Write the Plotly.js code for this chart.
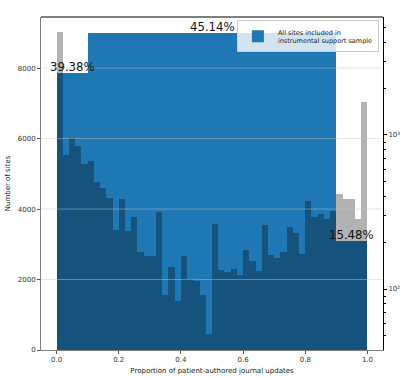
<!DOCTYPE html>
<html>
<head>
<meta charset="utf-8">
<script src="https://cdn.plot.ly/plotly-3.0.1.min.js"></script>
<style>
  html, body { margin: 0; padding: 0; background: #fff; }
  #plot { width: 407px; height: 379px; }
</style>
</head>
<body>
<div id="plot"></div>
<script>
// Три группы сайтов (синие столбцы, левая ось)
const groupCenters = [0.05, 0.5, 0.95];
const groupWidths = [0.1, 0.8, 0.1];
const groupCounts = [7851, 9000, 3086];
const groupLabels = ["39.38%", "45.14%", "15.48%"];

// Гистограмма по 50 интервалам (серые столбцы, правая лог. ось)
const binCenters = [
  0.01, 0.03, 0.05, 0.07, 0.09, 0.11, 0.13, 0.15, 0.17, 0.19,
  0.21, 0.23, 0.25, 0.27, 0.29, 0.31, 0.33, 0.35, 0.37, 0.39,
  0.41, 0.43, 0.45, 0.47, 0.49, 0.51, 0.53, 0.55, 0.57, 0.59,
  0.61, 0.63, 0.65, 0.67, 0.69, 0.71, 0.73, 0.75, 0.77, 0.79,
  0.81, 0.83, 0.85, 0.87, 0.89, 0.91, 0.93, 0.95, 0.97, 0.99
];
const binCounts = [
  4645, 741, 952, 853, 649, 678, 493, 455, 388, 242,
  382, 237, 292, 174, 164, 164, 315, 91, 138, 84,
  165, 116, 113, 91, 51, 263, 132, 128, 134, 124,
  178, 153, 131, 261, 166, 160, 175, 254, 230, 168,
  373, 292, 307, 286, 323, 414, 386, 386, 285, 1638
];

const leftTicks = [0, 2000, 4000, 6000, 8000];
const xTicks = [0, 0.2, 0.4, 0.6, 0.8, 1.0];
const xTickText = ["0.0", "0.2", "0.4", "0.6", "0.8", "1.0"];

const traceGroups = {
  x: groupCenters,
  y: groupCounts,
  width: groupWidths,
  type: "bar",
  name: "All sites included in<br>instrumental support sample",
  marker: { color: "#1f77b4", line: { width: 0 } },
  yaxis: "y",
};

const traceBins = {
  x: binCenters,
  y: binCounts,
  width: binCenters.map(() => 0.02),
  type: "bar",
  showlegend: false,
  marker: { color: "rgba(0,0,0,0.3)", line: { width: 0 } },
  yaxis: "y2",
};

// Подписи процентов над синими столбцами
const annotations = groupLabels.map((t, i) => ({
  x: groupCenters[i],
  y: groupCounts[i],
  xref: "x",
  yref: "y",
  text: t,
  showarrow: false,
  yanchor: "bottom",
  yshift: -3,
  font: { family: "Liberation Sans Narrow, DejaVu Sans Condensed, Liberation Sans", size: 13, color: "#111" },
}));

// Линии сетки поверх столбцов, как в оригинале
const gridShapes = leftTicks.slice(1).map((v) => ({
  type: "line",
  xref: "paper",
  yref: "y",
  x0: 0,
  x1: 1,
  y0: v,
  y1: v,
  layer: "above",
  line: { color: "rgba(200,200,200,0.45)", width: 1 },
}));
gridShapes.push({
  type: "line",
  xref: "paper",
  yref: "paper",
  x0: 0,
  x1: 1,
  y0: 1,
  y1: 1,
  layer: "above",
  line: { color: "#000", width: 1 },
});

const tickFont = { family: "DejaVu Sans", size: 7, color: "#333" };

const layout = {
  width: 407,
  height: 379,
  margin: { l: 41, r: 24, t: 17, b: 29 },
  paper_bgcolor: "#fff",
  plot_bgcolor: "#fff",
  barmode: "overlay",
  bargap: 0,
  showlegend: true,
  xaxis: {
    range: [-0.05, 1.05],
    tickvals: xTicks,
    ticktext: xTickText,
    ticks: "outside",
    ticklen: 3,
    tickcolor: "#555",
    showgrid: false,
    zeroline: false,
    showline: true,
    linecolor: "#808080",
    linewidth: 1,
    tickfont: tickFont,
    title: {
      text: "Proportion of patient-authored journal updates",
      font: { family: "DejaVu Sans", size: 7, color: "#222" },
      standoff: 4,
    },
  },
  yaxis: {
    range: [0, 9450],
    tickvals: leftTicks,
    ticks: "outside",
    ticklen: 3,
    tickcolor: "#555",
    showgrid: false,
    zeroline: false,
    showline: true,
    linecolor: "#808080",
    linewidth: 1,
    tickfont: tickFont,
    title: {
      text: "Number of sites",
      font: { family: "DejaVu Sans", size: 7, color: "#222" },
      standoff: 6,
    },
  },
  yaxis2: {
    type: "log",
    overlaying: "y",
    side: "right",
    range: [1.604, 3.766],
    tickvals: [100, 1000],
    ticktext: ["10²", "10³"],
    ticks: "outside",
    ticklen: 3,
    tickcolor: "#000",
    minor: {
      tickvals: [50, 60, 70, 80, 90, 200, 300, 400, 500, 600, 700, 800, 900, 2000, 3000, 4000, 5000],
      ticks: "outside",
      ticklen: 2,
      tickcolor: "#000",
      showgrid: false,
    },
    showgrid: false,
    zeroline: false,
    showline: true,
    linecolor: "#000",
    linewidth: 1,
    tickfont: tickFont,
  },
  legend: {
    x: 0.988,
    y: 0.99,
    xanchor: "right",
    yanchor: "top",
    bgcolor: "rgba(255,255,255,0.8)",
    bordercolor: "#ccc",
    borderwidth: 1,
    itemwidth: 30,
    font: { family: "DejaVu Sans", size: 6.5, color: "#222" },
  },
  annotations: annotations,
  shapes: gridShapes,
};

Plotly.newPlot("plot", [traceGroups, traceBins], layout, { displayModeBar: false, staticPlot: true });
</script>
</body>
</html>
